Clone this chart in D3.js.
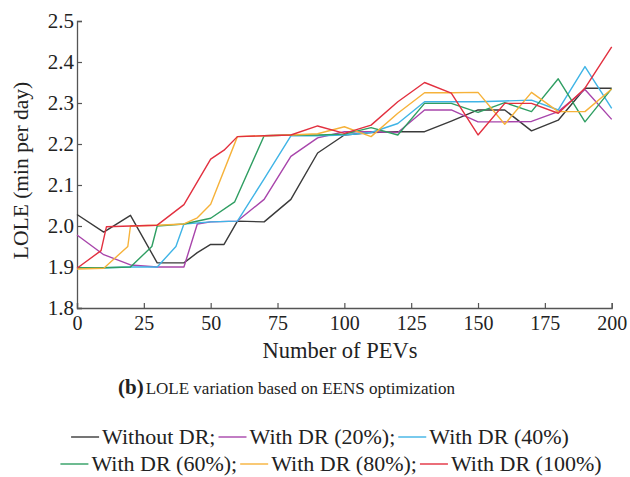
<!DOCTYPE html>
<html>
<head>
<meta charset="utf-8">
<script src="https://cdn.jsdelivr.net/npm/d3@7"></script>
<style>
  html, body { margin: 0; padding: 0; background: #fff; }
</style>
</head>
<body>
<svg id="chart" width="630" height="477"></svg>
<script>
// LOLE (min per day) against number of PEVs, one series per DR level
const withoutDR = [[0,2.028],[10,1.985],[20,2.026],[30,1.91],[40,1.91],[45,1.935],[50,1.955],[55,1.955],[60,2.012],[70,2.01],[80,2.065],[90,2.178],[100,2.222],[110,2.228],[120,2.23],[130,2.23],[140,2.256],[150,2.283],[160,2.283],[170,2.232],[180,2.258],[190,2.336],[200,2.336]];
const dr20 = [[0,1.978],[10,1.93],[20,1.905],[30,1.9],[40,1.9],[45,2.005],[50,2.01],[60,2.012],[70,2.065],[80,2.17],[90,2.215],[100,2.23],[110,2.23],[120,2.228],[130,2.283],[140,2.283],[150,2.254],[160,2.254],[170,2.255],[180,2.279],[190,2.333],[200,2.26]];
const dr40 = [[0,1.898],[10,1.898],[20,1.9],[30,1.9],[37,1.95],[40,2.005],[50,2.01],[60,2.012],[70,2.115],[80,2.22],[90,2.22],[100,2.222],[110,2.228],[120,2.25],[130,2.303],[140,2.303],[150,2.303],[160,2.305],[170,2.307],[180,2.283],[190,2.389],[200,2.287]];
const dr60 = [[0,1.898],[10,1.898],[20,1.9],[28,1.95],[30,2.0],[40,2.005],[50,2.019],[59,2.059],[70,2.22],[80,2.222],[90,2.222],[100,2.224],[110,2.24],[120,2.222],[130,2.299],[140,2.299],[150,2.277],[160,2.301],[170,2.279],[180,2.359],[190,2.254],[200,2.335]];
const dr80 = [[0,1.895],[10,1.897],[19,1.95],[20,2.0],[30,2.002],[40,2.005],[45,2.02],[50,2.053],[60,2.218],[70,2.22],[80,2.222],[90,2.225],[100,2.242],[110,2.218],[120,2.275],[130,2.325],[140,2.325],[150,2.326],[160,2.248],[170,2.326],[180,2.279],[190,2.279],[200,2.334]];
const dr100 = [[0,1.897],[9,1.94],[11,1.998],[20,2.0],[30,2.002],[40,2.052],[50,2.163],[55,2.185],[60,2.218],[70,2.22],[80,2.222],[90,2.244],[100,2.226],[110,2.246],[120,2.303],[130,2.35],[140,2.324],[150,2.222],[160,2.299],[170,2.299],[180,2.275],[190,2.336],[200,2.437]];

const seriesLabels = ["Without DR;", "With DR (20%);", "With DR (40%)", "With DR (60%);", "With DR (80%);", "With DR (100%)"];
const seriesColors = ["#3a3a3a", "#a845ab", "#3fb4e6", "#2f9e62", "#f6b23a", "#e2303f"];
const seriesData = [withoutDR, dr20, dr40, dr60, dr80, dr100];

const xTicks = [0, 25, 50, 75, 100, 125, 150, 175, 200];
const yTicks = [1.8, 1.9, 2.0, 2.1, 2.2, 2.3, 2.4, 2.5];

const FONT = "Liberation Serif";
const svg = d3.select("#chart");
const x = d3.scaleLinear().domain([0, 200]).range([77, 611.7]);
const y = d3.scaleLinear().domain([1.8, 2.5]).range([308, 21]);

const axisColor = "#555";
const textColor = "#222";

// x axis (ticks point inward)
const gx = svg.append("g").attr("transform", `translate(0,${y(1.8)})`)
  .call(d3.axisBottom(x).tickValues(xTicks).tickSize(-5).tickPadding(8).tickFormat(d3.format("d")));
gx.attr("font-family", FONT).attr("font-size", 20);
gx.select(".domain").attr("stroke", axisColor).attr("stroke-width", 1.3);
gx.selectAll(".tick line").attr("stroke", axisColor).attr("stroke-width", 1.2);
gx.selectAll(".tick text").attr("fill", textColor);

// y axis
const gy = svg.append("g").attr("transform", `translate(${x(0)},0)`)
  .call(d3.axisLeft(y).tickValues(yTicks).tickSize(-5).tickPadding(3).tickFormat(d3.format(".1f")));
gy.attr("font-family", FONT).attr("font-size", 21);
gy.select(".domain").attr("stroke", axisColor).attr("stroke-width", 1.3);
gy.selectAll(".tick line").attr("stroke", axisColor).attr("stroke-width", 1.2);
gy.selectAll(".tick text").attr("fill", textColor);

// series lines
const line = d3.line().x(d => x(d[0])).y(d => y(d[1]));
svg.append("g").selectAll("path").data(seriesData).join("path")
  .attr("d", line)
  .attr("fill", "none")
  .attr("stroke", (d, i) => seriesColors[i])
  .attr("stroke-width", 1.4)
  .attr("stroke-linejoin", "round");

// axis titles
svg.append("text")
  .attr("transform", `translate(28,${(y(1.8) + y(2.5)) / 2 + 6}) rotate(-90)`)
  .attr("text-anchor", "middle").attr("font-size", 21.5).attr("fill", textColor)
  .attr("font-family", FONT)
  .text("LOLE (min per day)");

svg.append("text")
  .attr("x", 340).attr("y", 358)
  .attr("text-anchor", "middle").attr("font-size", 22.5).attr("fill", textColor)
  .attr("font-family", FONT)
  .text("Number of PEVs");

// caption
const cap = svg.append("text").attr("x", 118).attr("y", 394).attr("fill", textColor).attr("font-family", FONT);
cap.append("tspan").attr("font-weight", "bold").attr("font-size", 21).text("(b)");
cap.append("tspan").attr("font-size", 17).attr("dx", 2).text("LOLE variation based on EENS optimization");

// legend, two centred rows
const rows = [{center: 320, y: 444, items: [0, 1, 2]}, {center: 331, y: 471, items: [3, 4, 5]}];
rows.forEach(row => {
  const g = svg.append("g");
  let cx = 0;
  row.items.forEach(i => {
    g.append("line")
      .attr("x1", cx).attr("x2", cx + 28)
      .attr("y1", row.y - 7).attr("y2", row.y - 7)
      .attr("stroke", seriesColors[i]).attr("stroke-width", 1.4);
    const t = g.append("text")
      .attr("x", cx + 31).attr("y", row.y)
      .attr("font-size", 22).attr("fill", textColor).attr("font-family", FONT)
      .text(seriesLabels[i]);
    cx += 31 + t.node().getComputedTextLength() + 3;
  });
  g.attr("transform", `translate(${row.center - (cx - 3) / 2},0)`);
});
</script>
</body>
</html>
